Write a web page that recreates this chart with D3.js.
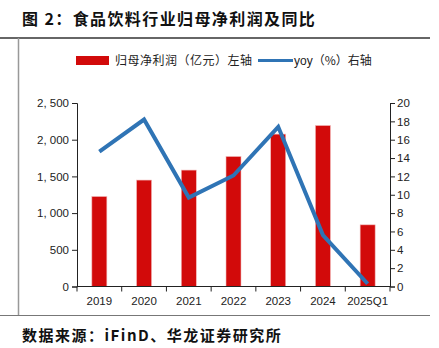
<!DOCTYPE html>
<html>
<head>
<meta charset="utf-8">
<script src="https://cdn.jsdelivr.net/npm/d3@7"></script>
<style>
  body { margin: 0; background: #fff; }
  svg text { font-family: "Liberation Sans", Arial, sans-serif; }
  .cn { font-family: "Noto Sans CJK SC", sans-serif; }
</style>
</head>
<body>
<svg id="chart" width="439" height="348"></svg>
<script>
// ---------- data ----------
var years = ["2019", "2020", "2021", "2022", "2023", "2024", "2025Q1"];
var profit = [1226, 1450, 1586, 1771, 2076, 2193, 840];
var yoy = [14.7, 18.2, 9.7, 12.1, 17.4, 5.6, 0.3];
var leftTicks = [0, 500, 1000, 1500, 2000, 2500];
var rightTicks = [0, 2, 4, 6, 8, 10, 12, 14, 16, 18, 20];

var svg = d3.select("#chart");
var plot = { left: 77, right: 390, top: 103, bottom: 286.5 };

// ---------- frame ----------
svg.append("text").attr("class", "cn")
  .attr("x", 22).attr("y", 25)
  .attr("font-size", 16).attr("font-weight", "bold").attr("fill", "#111")
  .attr("letter-spacing", 1.4)
  .text("图 2：食品饮料行业归母净利润及同比");

svg.append("line").attr("x1", 0).attr("x2", 430).attr("y1", 38).attr("y2", 38)
  .attr("stroke", "#333").attr("stroke-width", 1.5);
svg.append("line").attr("x1", 18.5).attr("x2", 18.5).attr("y1", 38).attr("y2", 316)
  .attr("stroke", "#999").attr("stroke-width", 1.5);
svg.append("line").attr("x1", 0).attr("x2", 430).attr("y1", 315.5).attr("y2", 315.5)
  .attr("stroke", "#777").attr("stroke-width", 1.2);

svg.append("text").attr("class", "cn")
  .attr("x", 22).attr("y", 341)
  .attr("font-size", 15).attr("font-weight", "bold").attr("fill", "#111")
  .attr("letter-spacing", 1.5)
  .text("数据来源：iFinD、华龙证券研究所");

// ---------- scales ----------
var x = d3.scaleBand().domain(years).range([plot.left, plot.right]).padding(0);
var yL = d3.scaleLinear().domain([0, 2500]).range([plot.bottom, plot.top]);
var yR = d3.scaleLinear().domain([0, 20]).range([plot.bottom, plot.top]);
var barW = 15;

// ---------- bars ----------
svg.selectAll("rect.bar").data(profit).enter().append("rect")
  .attr("class", "bar")
  .attr("x", function(d, i) { return x(years[i]) + x.bandwidth() / 2 - barW / 2; })
  .attr("y", function(d) { return yL(d); })
  .attr("width", barW)
  .attr("height", function(d) { return plot.bottom - yL(d); })
  .attr("fill", "#d20a0a")
  .attr("stroke", "#f2b8b8").attr("stroke-width", 0.6);

// ---------- axes ----------
var fmt = function(d) { return d3.format(",")(d).replace(",", ", "); };
var axL = svg.append("g").attr("transform", "translate(" + plot.left + ",0)")
  .call(d3.axisLeft(yL).tickValues(leftTicks).tickFormat(fmt).tickSize(5).tickPadding(3));
var axR = svg.append("g").attr("transform", "translate(" + plot.right + ",0)")
  .call(d3.axisRight(yR).tickValues(rightTicks).tickSize(5).tickPadding(2));

var xTickPos = years.map(function(d) { return x(d); }).concat([plot.right]);
var axX = svg.append("g");
axX.append("line").attr("x1", plot.left).attr("x2", plot.right)
  .attr("y1", plot.bottom).attr("y2", plot.bottom).attr("stroke", "#222");
axX.selectAll("line.t").data(xTickPos).enter().append("line")
  .attr("x1", function(d) { return d; }).attr("x2", function(d) { return d; })
  .attr("y1", plot.bottom).attr("y2", plot.bottom + 5).attr("stroke", "#222");
axX.selectAll("text").data(years).enter().append("text")
  .attr("x", function(d) { return x(d) + x.bandwidth() / 2; })
  .attr("y", 305).attr("text-anchor", "middle")
  .attr("font-size", 11.5).attr("fill", "#222")
  .text(function(d) { return d; });

[axL, axR].forEach(function(g) {
  g.select(".domain").attr("stroke", "#222");
  g.selectAll(".tick line").attr("stroke", "#222");
  g.selectAll(".tick text").attr("font-size", 11.5).attr("fill", "#222")
    .attr("font-family", "'Liberation Sans', Arial, sans-serif");
});

// ---------- line ----------
var line = d3.line()
  .x(function(d, i) { return x(years[i]) + x.bandwidth() / 2; })
  .y(function(d) { return yR(d); });
svg.append("path").datum(yoy)
  .attr("d", line)
  .attr("fill", "none").attr("stroke", "#2f74b5").attr("stroke-width", 4)
  .attr("stroke-linejoin", "miter");

// ---------- legend ----------
var lg = svg.append("g");
lg.append("rect").attr("x", 76).attr("y", 56).attr("width", 33).attr("height", 9).attr("fill", "#d20a0a");
lg.append("text").attr("class", "cn").attr("x", 115).attr("y", 65)
  .attr("font-size", 12).attr("fill", "#222").attr("letter-spacing", 0.5)
  .text("归母净利润（亿元）左轴");
lg.append("line").attr("x1", 258).attr("x2", 293).attr("y1", 60.5).attr("y2", 60.5)
  .attr("stroke", "#2f74b5").attr("stroke-width", 3);
lg.append("text").attr("x", 294).attr("y", 65)
  .attr("font-size", 12).attr("fill", "#222")
  .call(function(t) {
    t.append("tspan").text("yoy");
    t.append("tspan").attr("class", "cn").text("（%）右轴");
  });
</script>
</body>
</html>
